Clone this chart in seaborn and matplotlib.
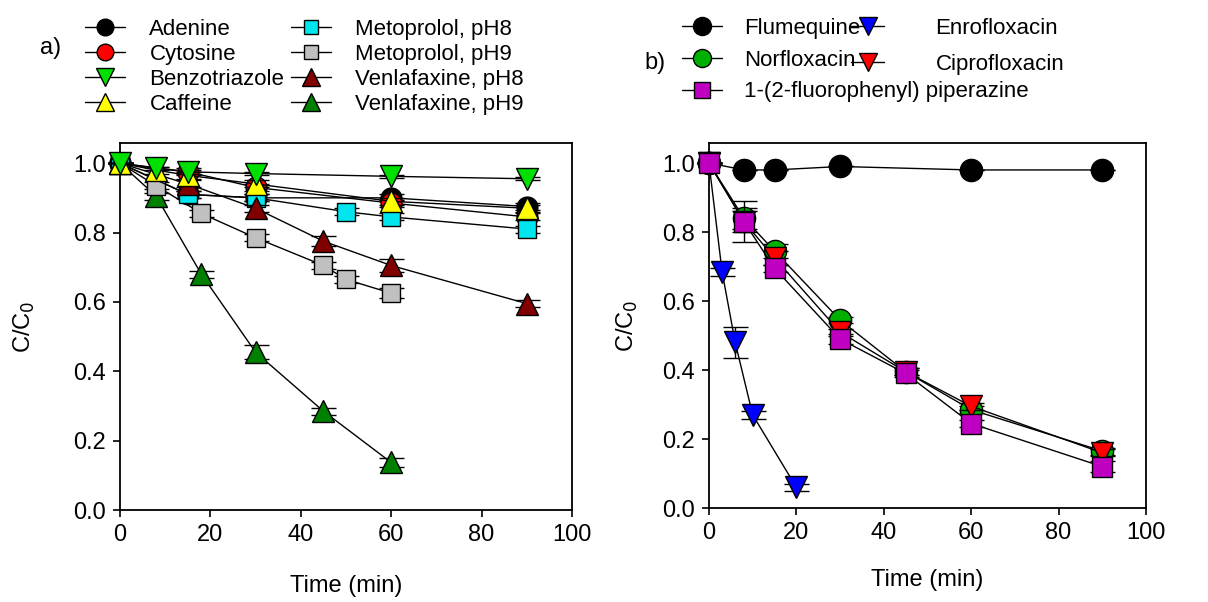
import numpy as np
import pandas as pd
import seaborn as sns
import matplotlib.pyplot as plt
from matplotlib.lines import Line2D

# panel a) data
adenine_t = [0, 15, 30, 60, 90]
adenine = [1.0, 0.91, 0.90, 0.90, 0.875]
adenine_err = [0.0, 0.01, 0.01, 0.01, 0.01]

cytosine_t = [0, 15, 30, 60, 90]
cytosine = [1.0, 0.975, 0.93, 0.885, 0.845]
cytosine_err = [0.0, 0.01, 0.01, 0.01, 0.01]

benzo_t = [0, 8, 15, 30, 60, 90]
benzo = [1.0, 0.985, 0.975, 0.97, 0.962, 0.955]
benzo_err = [0.0, 0.005, 0.005, 0.005, 0.005, 0.005]

caffeine_t = [0, 8, 15, 30, 60, 90]
caffeine = [1.0, 0.98, 0.965, 0.94, 0.89, 0.87]
caffeine_err = [0.0, 0.01, 0.01, 0.01, 0.01, 0.01]

meto8_t = [0, 15, 30, 50, 60, 90]
meto8 = [1.0, 0.91, 0.90, 0.86, 0.845, 0.81]
meto8_err = [0.0, 0.01, 0.01, 0.01, 0.01, 0.01]

meto9_t = [0, 8, 18, 30, 45, 50, 60]
meto9 = [1.0, 0.935, 0.855, 0.785, 0.705, 0.665, 0.625]
meto9_err = [0.0, 0.01, 0.01, 0.01, 0.01, 0.01, 0.015]

venla8_t = [0, 15, 30, 45, 60, 90]
venla8 = [1.0, 0.94, 0.87, 0.775, 0.705, 0.595]
venla8_err = [0.0, 0.01, 0.01, 0.015, 0.02, 0.01]

venla9_t = [0, 8, 18, 30, 45, 60]
venla9 = [1.0, 0.905, 0.68, 0.455, 0.285, 0.137]
venla9_err = [0.0, 0.01, 0.01, 0.02, 0.01, 0.012]

# panel b) data
flume_t = [0, 8, 15, 30, 60, 90]
flume = [1.0, 0.98, 0.98, 0.99, 0.98, 0.98]
flume_err = [0, 0, 0, 0, 0, 0]

norflox_t = [0, 8, 15, 30, 45, 60, 90]
norflox = [1.0, 0.84, 0.745, 0.545, 0.395, 0.285, 0.165]
norflox_err = [0.0, 0.03, 0.02, 0.01, 0.01, 0.01, 0.01]

pip_t = [0, 8, 15, 30, 45, 60, 90]
pip = [1.0, 0.83, 0.695, 0.49, 0.39, 0.245, 0.12]
pip_err = [0.0, 0.06, 0.01, 0.015, 0.01, 0.01, 0.015]

enro_t = [0, 3, 6, 10, 20]
enro = [1.0, 0.685, 0.48, 0.27, 0.06]
enro_err = [0.0, 0.012, 0.045, 0.012, 0.01]

cipro_t = [0, 8, 15, 30, 45, 60, 90]
cipro = [1.0, 0.83, 0.725, 0.51, 0.395, 0.295, 0.16]
cipro_err = [0.0, 0.03, 0.02, 0.01, 0.01, 0.01, 0.01]

sns.set_style('ticks')
plt.rcParams['font.family'] = ['Liberation Sans', 'DejaVu Sans']
plt.rcParams['text.color'] = 'black'
plt.rcParams['axes.labelcolor'] = 'black'
fs = 17

fig = plt.figure(figsize=(12.08, 6.02), dpi=100)
ax1 = fig.add_axes([0.0993, 0.1528, 0.3742, 0.6096])
ax2 = fig.add_axes([0.5869, 0.1561, 0.3618, 0.6063])


def draw(ax, t, v, e, marker, face, ms, z):
    ax.errorbar(t, v, yerr=e, fmt='none', ecolor='black', elinewidth=1,
                capsize=9, capthick=1, zorder=z - 0.5, clip_on=False)
    sns.lineplot(x=t, y=v, ax=ax, color='black', lw=1, marker=marker,
                 markerfacecolor=face, markeredgecolor='black', markeredgewidth=1,
                 markersize=ms, clip_on=False, zorder=z)
    # smaller copy for the legend
    return Line2D([], [], color='black', lw=1, marker=marker, markerfacecolor=face,
                  markeredgecolor='black', markersize=ms - 3)


# a) series
h = []
h.append((draw(ax1, adenine_t, adenine, adenine_err, 'o', 'black', 15, 3), 'Adenine'))
h.append((draw(ax1, cytosine_t, cytosine, cytosine_err, 'o', 'red', 15, 4), 'Cytosine'))
h_venla9 = draw(ax1, venla9_t, venla9, venla9_err, '^', '#008000', 16, 5)
h_meto9 = draw(ax1, meto9_t, meto9, meto9_err, 's', '#c0c0c0', 13, 6)
h_meto8 = draw(ax1, meto8_t, meto8, meto8_err, 's', '#00e5ee', 13, 7)
h_venla8 = draw(ax1, venla8_t, venla8, venla8_err, '^', '#800000', 16, 8)
h_caff = draw(ax1, caffeine_t, caffeine, caffeine_err, '^', 'yellow', 16, 9)
h_benzo = draw(ax1, benzo_t, benzo, benzo_err, 'v', '#00e000', 16, 10)
h.append((h_benzo, 'Benzotriazole'))
h.append((h_caff, 'Caffeine'))
h.append((h_meto8, 'Metoprolol, pH8'))
h.append((h_meto9, 'Metoprolol, pH9'))
h.append((h_venla8, 'Venlafaxine, pH8'))
h.append((h_venla9, 'Venlafaxine, pH9'))

# b) series
h_flume = draw(ax2, flume_t, flume, flume_err, 'o', 'black', 16, 3)
h_enro = draw(ax2, enro_t, enro, enro_err, 'v', '#0000ff', 16, 4)
h_norf = draw(ax2, norflox_t, norflox, norflox_err, 'o', '#00b000', 16, 5)
h_cipro = draw(ax2, cipro_t, cipro, cipro_err, 'v', 'red', 16, 6)
h_pip = draw(ax2, pip_t, pip, pip_err, 's', '#c000c0', 14, 7)

for ax in (ax1, ax2):
    ax.set_xlim(0, 100)
    ax.set_ylim(0, 1.058)
    ax.set_xticks(np.arange(0, 101, 20))
    ax.set_yticks(np.arange(0, 1.01, 0.2))
    ax.set_yticklabels(['%.1f' % v for v in np.arange(0, 1.01, 0.2)])
    ax.tick_params(axis='both', direction='out', length=5, width=1.2,
                   labelsize=fs, pad=5, colors='black')
    for pos in ['left', 'right', 'top', 'bottom']:
        ax.spines[pos].set_visible(True)
        ax.spines[pos].set_linewidth(1.3)
        ax.spines[pos].set_color('black')
    ax.grid(False)
ax1.set_xlabel('Time (min)', fontsize=fs, labelpad=21)
ax2.set_xlabel('Time (min)', fontsize=fs, labelpad=18)
ax1.set_ylabel('C/C$_0$', fontsize=fs, labelpad=26)
ax2.set_ylabel('C/C$_0$', fontsize=fs, labelpad=16)

leg_kw = dict(frameon=False, fontsize=16, borderpad=0, borderaxespad=0,
              loc='upper left')

fig.legend([x[0] for x in h], [x[1] for x in h], ncol=2,
           bbox_to_anchor=(85 / 1208, 1 - 19 / 602), labelspacing=0.18,
           handlelength=1.8, handletextpad=1.1, columnspacing=0.3, **leg_kw)

fig.legend([h_flume, h_norf, h_pip], ['Flumequine', 'Norfloxacin', '1-(2-fluorophenyl) piperazine'],
           bbox_to_anchor=(682 / 1208, 1 - 18 / 602), labelspacing=0.48,
           handlelength=1.8, handletextpad=1.0, **leg_kw)
fig.legend([h_enro, h_cipro], ['Enrofloxacin', 'Ciprofloxacin'],
           bbox_to_anchor=(851 / 1208, 1 - 18 / 602), labelspacing=0.66,
           handlelength=1.5, handletextpad=2.3, **leg_kw)

fig.text(40 / 1208, 1 - 48 / 602, 'a)', fontsize=fs, va='center')
fig.text(644 / 1208, 1 - 63 / 602, 'b)', fontsize=fs, va='center')

plt.savefig('out.png', dpi=100)
